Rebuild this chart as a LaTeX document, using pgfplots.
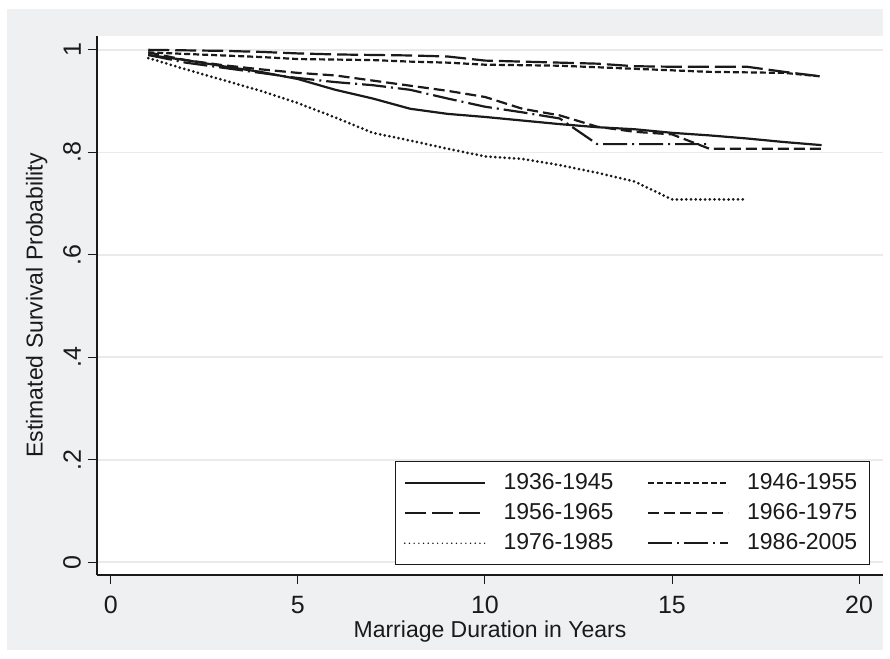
\documentclass[border=0pt]{standalone}
\usepackage{fontspec}
\setmainfont{Liberation Sans}
\usepackage{pgfplots}
\pgfplotsset{compat=1.18}
\definecolor{bg}{RGB}{238,240,242}
\definecolor{ln}{RGB}{26,26,26}
\definecolor{gridc}{RGB}{234,234,234}
\begin{document}
\begin{tikzpicture}
\useasboundingbox[fill=white] (0pt,0pt) rectangle (445pt,329.5pt);
\fill[bg] (3.5pt,4.5pt) rectangle (441.5pt,325pt);
\begin{axis}[
  at={(48.5pt,42pt)}, anchor=south west, scale only axis,
  width=393pt, height=269.5pt,
  xmin=-0.37, xmax=20.64, ymin=-0.025, ymax=1.027,
  axis background/.style={fill=white},
  axis x line*=bottom, axis y line*=left,
  axis line style={ln, line width=0.6pt, -},
  xtick={0,5,10,15,20},
  ytick={0,0.2,0.4,0.6,0.8,1},
  yticklabels={0,.2,.4,.6,.8,1},
  yticklabel style={rotate=90, anchor=south},
  xticklabel style={yshift=-2.5pt},
  /pgf/number format/assume math mode=true,
  tick align=outside, major tick length=4.5pt,
  tick style={ln, line width=0.5pt},
  ymajorgrids, grid style={gridc, line width=0.8pt},
  ticklabel style={font=\fontsize{12.5}{14}\selectfont, text=ln},
  label style={font=\fontsize{11.5}{14}\selectfont, text=ln},
  xlabel={Marriage Duration in Years},
  ylabel={Estimated Survival Probability},
  xlabel style={yshift=3.5pt},
  ylabel style={yshift=1pt},
  legend columns=2,
  legend cell align=left,
  legend style={at={(0.983,0.018)}, anchor=south east, draw=ln, line width=0.5pt,
    fill=white, font=\fontsize{11.5}{13}\selectfont, text=ln,
    /tikz/every odd column/.append style={column sep=7pt},
    /tikz/every even column/.append style={column sep=15pt},
    row sep=1.5pt, inner sep=4pt},
  legend image code/.code={\draw[#1, line width=0.8pt] (0pt,0pt) -- (40pt,0pt);},
]
% 1936-1945 solid
\addplot[ln, line width=1.1pt] coordinates {
(1,0.990) (2,0.980) (3,0.968) (4,0.957) (5,0.943) (6,0.922) (7,0.905) (8,0.885)
(9,0.875) (10,0.869) (11,0.862) (12,0.855) (13,0.849) (14,0.845) (15,0.838)
(16,0.833) (17,0.827) (18,0.820) (19,0.814)};
\addlegendentry{1936-1945}
% 1946-1955 short dash
\addplot[ln, line width=1.1pt, dash pattern=on 3pt off 1.5pt] coordinates {
(1,0.995) (2,0.992) (3,0.989) (4,0.986) (5,0.982) (6,0.981) (7,0.980) (8,0.977)
(9,0.975) (10,0.971) (11,0.970) (12,0.969) (13,0.966) (14,0.963) (15,0.960)
(16,0.957) (17,0.956) (18,0.955) (19,0.948)};
\addlegendentry{1946-1955}
% 1956-1965 long dash
\addplot[ln, line width=1.1pt, dash pattern=on 10.5pt off 3pt] coordinates {
(1,1.000) (2,0.999) (3,0.998) (4,0.996) (5,0.993) (6,0.991) (7,0.990) (8,0.989)
(9,0.987) (10,0.979) (11,0.977) (12,0.975) (13,0.973) (14,0.968) (15,0.967)
(16,0.967) (17,0.967) (18,0.957) (19,0.948)};
\addlegendentry{1956-1965}
% 1966-1975 medium dash
\addplot[ln, line width=1.1pt, dash pattern=on 5.5pt off 2.5pt] coordinates {
(1,0.995) (2,0.980) (3,0.970) (4,0.962) (5,0.955) (6,0.950) (7,0.940) (8,0.930)
(9,0.920) (10,0.908) (11,0.885) (12,0.872) (13,0.850) (14,0.840) (15,0.835)
(16,0.807) (17,0.807) (18,0.807) (19,0.807)};
\addlegendentry{1966-1975}
% 1976-1985 dotted
\addplot[ln, line width=1.5pt, line cap=round, dash pattern=on 0pt off 2.35pt] coordinates {
(1,0.984) (2,0.962) (3,0.941) (4,0.920) (5,0.896) (6,0.868) (7,0.838) (8,0.823)
(9,0.807) (10,0.792) (11,0.787) (12,0.775) (13,0.760) (14,0.743) (15,0.708)
(16,0.708) (17,0.708)};
\addlegendentry{1976-1985}
% 1986-2005 dash dot
\addplot[ln, line width=1.1pt, dash pattern=on 12pt off 2.5pt on 1pt off 2.5pt] coordinates {
(1,0.990) (2,0.975) (3,0.965) (4,0.955) (5,0.945) (6,0.937) (7,0.931) (8,0.922)
(9,0.905) (10,0.889) (11,0.878) (12,0.866) (13,0.816) (14,0.816) (15,0.816)
(16,0.816)};
\addlegendentry{1986-2005}
\end{axis}
\end{tikzpicture}
\end{document}
